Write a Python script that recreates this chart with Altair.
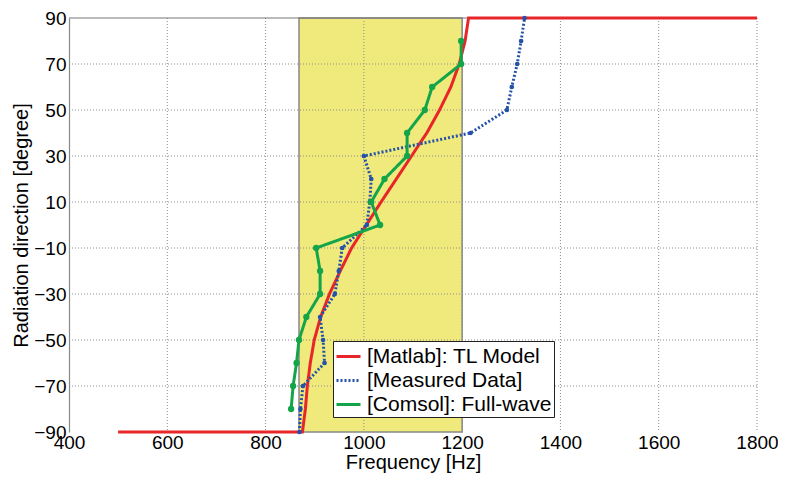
import altair as alt
import pandas as pd

x_ticks = [400, 600, 800, 1000, 1200, 1400, 1600, 1800]
y_ticks = [-90, -70, -50, -30, -10, 10, 30, 50, 70, 90]

band_lo = 868
band_hi = 1200

red_f = [500, 875, 878, 881, 885, 891, 899, 912, 930, 952, 975, 1005, 1035, 1066, 1097, 1128, 1154, 1177, 1194, 1206, 1213, 1800]
red_d = [-90, -90, -85, -80, -70, -60, -50, -40, -30, -20, -10, 0, 10, 20, 30, 40, 50, 60, 70, 80, 90, 90]

blue_f = [869, 871, 876, 920, 917, 911, 941, 949, 956, 1006, 1012, 1015, 1000, 1217, 1291, 1301, 1312, 1320, 1327]
blue_d = [-90, -80, -70, -60, -50, -40, -30, -20, -10, 0, 10, 20, 30, 40, 50, 60, 70, 80, 90]

green_f = [852, 856, 863, 868, 883, 911, 911, 903, 1033, 1015, 1042, 1088, 1088, 1124, 1139, 1198, 1198]
green_d = [-80, -70, -60, -50, -40, -30, -20, -10, 0, 10, 20, 30, 40, 50, 60, 70, 80]

series_names = ["[Matlab]: TL Model", "[Measured Data]", "[Comsol]: Full-wave"]
colors = ["#E8262A", "#2452A8", "#14A54A"]
dashes = [[1, 0], [2, 2], [1, 0]]

FONT = "Liberation Sans"

rows = []
for name, fs, ds in zip(series_names, [red_f, blue_f, green_f], [red_d, blue_d, green_d]):
    for i, (f, d) in enumerate(zip(fs, ds)):
        rows.append({"series": name, "f": f, "d": d, "idx": i})
lines_df = pd.DataFrame(rows)
blue_df = pd.DataFrame({"f": blue_f, "d": blue_d})
green_df = pd.DataFrame({"f": green_f, "d": green_d})
band_df = pd.DataFrame({"lo": [band_lo], "hi": [band_hi], "b": [-90], "t": [90]})
xg_df = pd.DataFrame({"f": x_ticks[1:]})
yg_df = pd.DataFrame({"d": y_ticks[1:-1]})
top_df = pd.DataFrame({"d": [y_ticks[-1]]})

x_scale = alt.Scale(domain=[400, 1800], nice=False, zero=False)
y_scale = alt.Scale(domain=[-90, 90], nice=False, zero=False)

x_axis = alt.Axis(values=x_ticks, format="d", domain=False, ticks=False, grid=False,
                  labelFontSize=19, labelPadding=1, labelFlush=False,
                  labelFont=FONT, labelColor="black",
                  titleFont=FONT, titleFontSize=20, titleFontWeight="normal",
                  titleColor="black", titleY=20)
y_axis = alt.Axis(values=y_ticks, format="d", domain=True, domainColor="#888888", domainWidth=1.2,
                  ticks=False, grid=False,
                  labelFontSize=19, labelPadding=3, labelFlush=False,
                  labelFont=FONT, labelColor="black",
                  titleFont=FONT, titleFontSize=20, titleFontWeight="normal",
                  titleColor="black", titlePadding=2)

XT = "Frequency [Hz]"
YT = "Radiation direction [degree]"


def X(field):
    return alt.X(field, type="quantitative", scale=x_scale, axis=x_axis, title=XT)


def Y(field):
    return alt.Y(field, type="quantitative", scale=y_scale, axis=y_axis, title=YT)


band = alt.Chart(band_df).mark_rect(color="#EFEA7B", stroke="#888888", strokeWidth=1.5).encode(
    x=X("lo"), x2="hi", y=Y("b"), y2="t"
)

xgrid = alt.Chart(xg_df).mark_rule(color="#8c8c8c", strokeDash=[1, 2], strokeWidth=1).encode(
    x=X("f")
)
ygrid = alt.Chart(yg_df).mark_rule(color="#8c8c8c", strokeDash=[1, 2], strokeWidth=1).encode(
    y=Y("d")
)
top = alt.Chart(top_df).mark_rule(color="#777777", strokeWidth=1).encode(y=Y("d"))

lines = alt.Chart(lines_df).mark_line(strokeWidth=3).encode(
    x=X("f"), y=Y("d"),
    color=alt.Color("series:N", scale=alt.Scale(domain=series_names, range=colors),
                    legend=alt.Legend(title=None)),
    strokeDash=alt.StrokeDash("series:N", scale=alt.Scale(domain=series_names, range=dashes),
                              legend=alt.Legend(title=None)),
    order=alt.Order("idx:Q"),
)

bpts = alt.Chart(blue_df).mark_circle(color=colors[1], size=22, opacity=1).encode(x=X("f"), y=Y("d"))
gpts = alt.Chart(green_df).mark_circle(color=colors[2], size=40, opacity=1).encode(x=X("f"), y=Y("d"))

chart = alt.layer(band, xgrid, ygrid, top, lines, bpts, gpts).properties(
    width=688, height=414,
    padding={"left": 61, "top": 10, "right": 21, "bottom": 42},
    autosize=alt.AutoSizeParams(type="none"),
    background="white",
).configure_view(stroke=None).configure_legend(
    orient="none", legendX=264, legendY=323,
    strokeColor="#222222", fillColor="white", padding=2, cornerRadius=0,
    labelFont=FONT, labelFontSize=21, labelColor="black", labelLimit=400,
    symbolType="stroke", symbolSize=576, symbolStrokeWidth=3,
    rowPadding=0, labelOffset=5,
)

chart.save("out.html", embed_options={"renderer": "svg", "actions": False})
